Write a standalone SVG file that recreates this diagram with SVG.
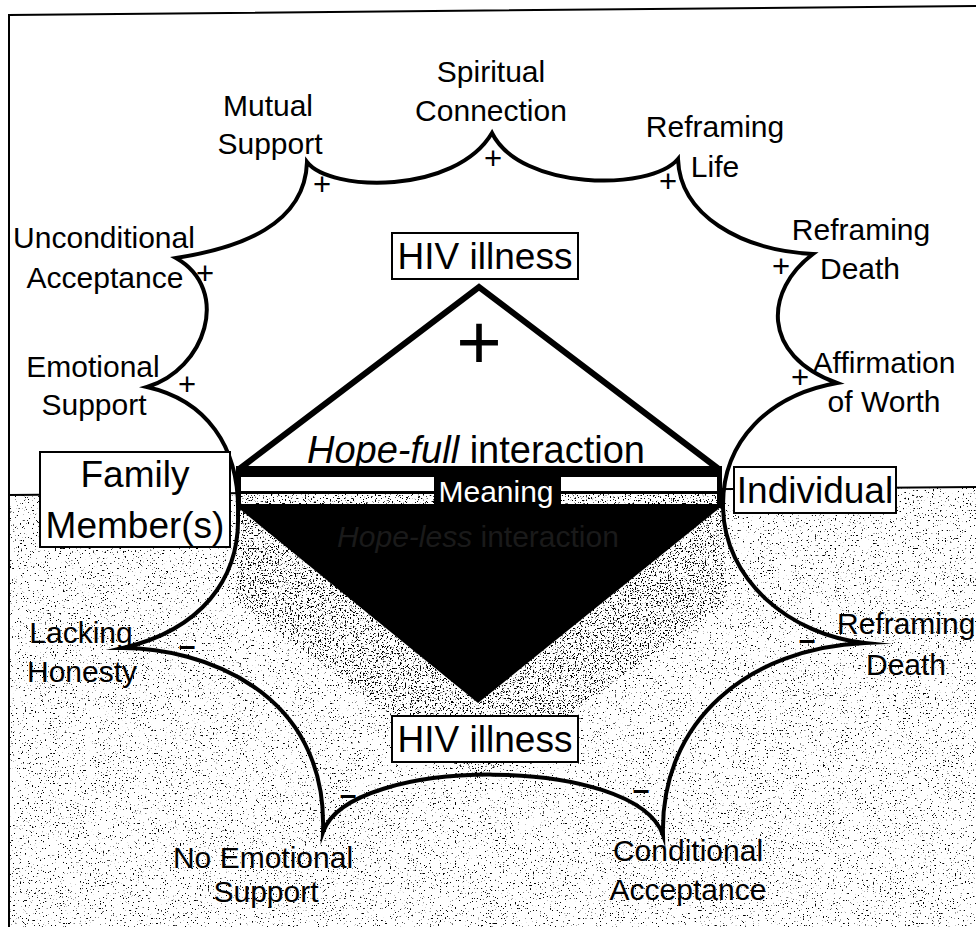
<svg xmlns="http://www.w3.org/2000/svg" width="976" height="927" viewBox="0 0 976 927">
  <style>
    text { font-family: "Liberation Sans", Arial, sans-serif; fill: #000; }
    .lbl { font-size: 30px; text-anchor: middle; }
    .big { font-size: 37px; text-anchor: middle; }
    .plus { font-size: 31px; text-anchor: middle; }
    .minus { font-size: 30px; font-weight: bold; text-anchor: middle; }
    .box { fill: #fff; stroke: #000; stroke-width: 2; }
    .star { fill: none; stroke: #000; stroke-width: 4; stroke-linejoin: miter; stroke-miterlimit: 20; }
    .frame { fill: none; stroke: #000; stroke-width: 2; }
  </style>
  <defs>
    <!-- photocopy grain for the lower (negative) half -->
    <filter id="grain" filterUnits="userSpaceOnUse" x="0" y="0" width="976" height="927">
      <feTurbulence type="fractalNoise" baseFrequency="0.6" numOctaves="2" seed="11" result="t"/>
      <feColorMatrix in="t" type="matrix" values="0 0 0 0 0  0 0 0 0 0  0 0 0 0 0  -14 0 0 0 4.6"/>
    </filter>
    <filter id="grainDense" filterUnits="userSpaceOnUse" x="0" y="0" width="976" height="927">
      <feTurbulence type="fractalNoise" baseFrequency="0.6" numOctaves="2" seed="4" result="t"/>
      <feColorMatrix in="t" type="matrix" values="0 0 0 0 0  0 0 0 0 0  0 0 0 0 0  -14 0 0 0 5.5"/>
    </filter>
    <clipPath id="lowerHalf">
      <polygon points="9,495 976,487 976,927 9,927"/>
    </clipPath>
    <clipPath id="nearTriangle">
      <polygon points="238,507 478,703 721,507 728,600 478,780 236,600"/>
    </clipPath>
    <clipPath id="bars">
      <rect x="241" y="494" width="193" height="10"/>
      <rect x="561" y="494" width="156" height="10"/>
    </clipPath>
  </defs>

  <rect x="0" y="0" width="976" height="927" fill="#fff"/>

  <!-- grain texture below the divider -->
  <g id="texture">
    <rect x="0" y="0" width="976" height="927" filter="url(#grain)" clip-path="url(#lowerHalf)"/>
    <rect x="0" y="0" width="976" height="927" filter="url(#grainDense)" clip-path="url(#nearTriangle)"/>
  </g>

  <!-- outer frame and divider -->
  <g id="frame">
    <polyline class="frame" points="9,927 9,15 976,6"/>
    <line class="frame" x1="9" y1="495" x2="976" y2="487"/>
  </g>

  <!-- central interaction triangles and the meaning band -->
  <g id="interaction">
    <rect x="236" y="466" width="486" height="42" fill="#000"/>
    <polygon points="236,506 722,506 478,703" fill="#000"/>
    <rect x="241" y="477" width="193" height="14" fill="#fff"/>
    <rect x="561" y="477" width="156" height="14" fill="#fff"/>
    <rect x="241" y="494" width="193" height="10" fill="#fff"/>
    <rect x="561" y="494" width="156" height="10" fill="#fff"/>
    <rect x="0" y="0" width="976" height="927" filter="url(#grainDense)" clip-path="url(#bars)"/>
    <polyline points="238,470 479,287 720,470" fill="none" stroke="#000" stroke-width="6" stroke-linejoin="miter"/>
    <text class="plus" x="479" y="369" style="font-size:78px">+</text>
    <text class="big" x="476" y="463" style="font-size:38px"><tspan font-style="italic">Hope-full</tspan> interaction</text>
    <text class="lbl" x="496" y="502" style="fill:#fff">Meaning</text>
    <text class="lbl" x="478" y="547" style="fill:#1a1a1a"><tspan font-style="italic">Hope-less</tspan> interaction</text>
  </g>

  <!-- scalloped outline joining the attributes -->
  <g id="connectors">
    <path class="star" d="M 123,648
      C 200,630 240,580 238,515
      C 240,445 205,400 147,387
      C 205,370 232,290 176,258
      C 240,248 305,225 307,162
      C 330,192 455,195 492,133
      C 520,190 650,192 678,159
      C 680,215 740,250 813,254
      C 765,290 760,355 837,383
      C 770,395 722,440 723,507
      C 724,580 790,635 865,643
      C 750,648 660,720 663,835
      C 635,755 350,755 323,832
      C 328,690 200,648 123,648 Z"/>
  </g>

  <!-- main nodes -->
  <g id="hiv-top">
    <rect class="box" x="392" y="233" width="186" height="46"/>
    <text class="big" x="485" y="269">HIV illness</text>
  </g>
  <g id="hiv-bottom">
    <rect class="box" x="392" y="716" width="186" height="46"/>
    <text class="big" x="485" y="752">HIV illness</text>
  </g>
  <g id="family">
    <rect class="box" x="40" y="452" width="190" height="95"/>
    <text class="big" x="135" y="487">Family</text>
    <text class="big" x="135" y="538">Member(s)</text>
  </g>
  <g id="individual">
    <rect class="box" x="734" y="467" width="162" height="46"/>
    <text class="big" x="815" y="503">Individual</text>
  </g>

  <!-- positive attributes -->
  <g id="spiritual-connection">
    <text class="lbl" x="491" y="82">Spiritual</text>
    <text class="lbl" x="491" y="121">Connection</text>
    <text class="plus" x="493" y="169">+</text>
  </g>
  <g id="mutual-support">
    <text class="lbl" x="268" y="116">Mutual</text>
    <text class="lbl" x="270" y="154">Support</text>
    <text class="plus" x="322" y="195">+</text>
  </g>
  <g id="reframing-life">
    <text class="lbl" x="715" y="137">Reframing</text>
    <text class="lbl" x="715" y="177">Life</text>
    <text class="plus" x="668" y="192">+</text>
  </g>
  <g id="unconditional-acceptance">
    <text class="lbl" x="104" y="248">Unconditional</text>
    <text class="lbl" x="105" y="288">Acceptance</text>
    <text class="plus" x="205" y="284">+</text>
  </g>
  <g id="reframing-death-pos">
    <text class="lbl" x="861" y="240">Reframing</text>
    <text class="lbl" x="860" y="279">Death</text>
    <text class="plus" x="781" y="277">+</text>
  </g>
  <g id="emotional-support">
    <text class="lbl" x="93" y="377">Emotional</text>
    <text class="lbl" x="94" y="415">Support</text>
    <text class="plus" x="187" y="395">+</text>
  </g>
  <g id="affirmation-of-worth">
    <text class="lbl" x="884" y="373">Affirmation</text>
    <text class="lbl" x="884" y="412">of Worth</text>
    <text class="plus" x="800" y="388">+</text>
  </g>

  <!-- negative attributes -->
  <g id="lacking-honesty">
    <text class="lbl" x="81" y="643">Lacking</text>
    <text class="lbl" x="82" y="682">Honesty</text>
    <text class="minus" x="187" y="656">–</text>
  </g>
  <g id="reframing-death-neg">
    <text class="lbl" x="837" y="634" style="text-anchor:start">Reframing</text>
    <text class="lbl" x="906" y="675">Death</text>
    <text class="minus" x="807" y="650">–</text>
  </g>
  <g id="no-emotional-support">
    <text class="lbl" x="263" y="868">No Emotional</text>
    <text class="lbl" x="266" y="902">Support</text>
    <text class="minus" x="348" y="805">–</text>
  </g>
  <g id="conditional-acceptance">
    <text class="lbl" x="688" y="861">Conditional</text>
    <text class="lbl" x="688" y="900">Acceptance</text>
    <text class="minus" x="641" y="800">–</text>
  </g>
</svg>
